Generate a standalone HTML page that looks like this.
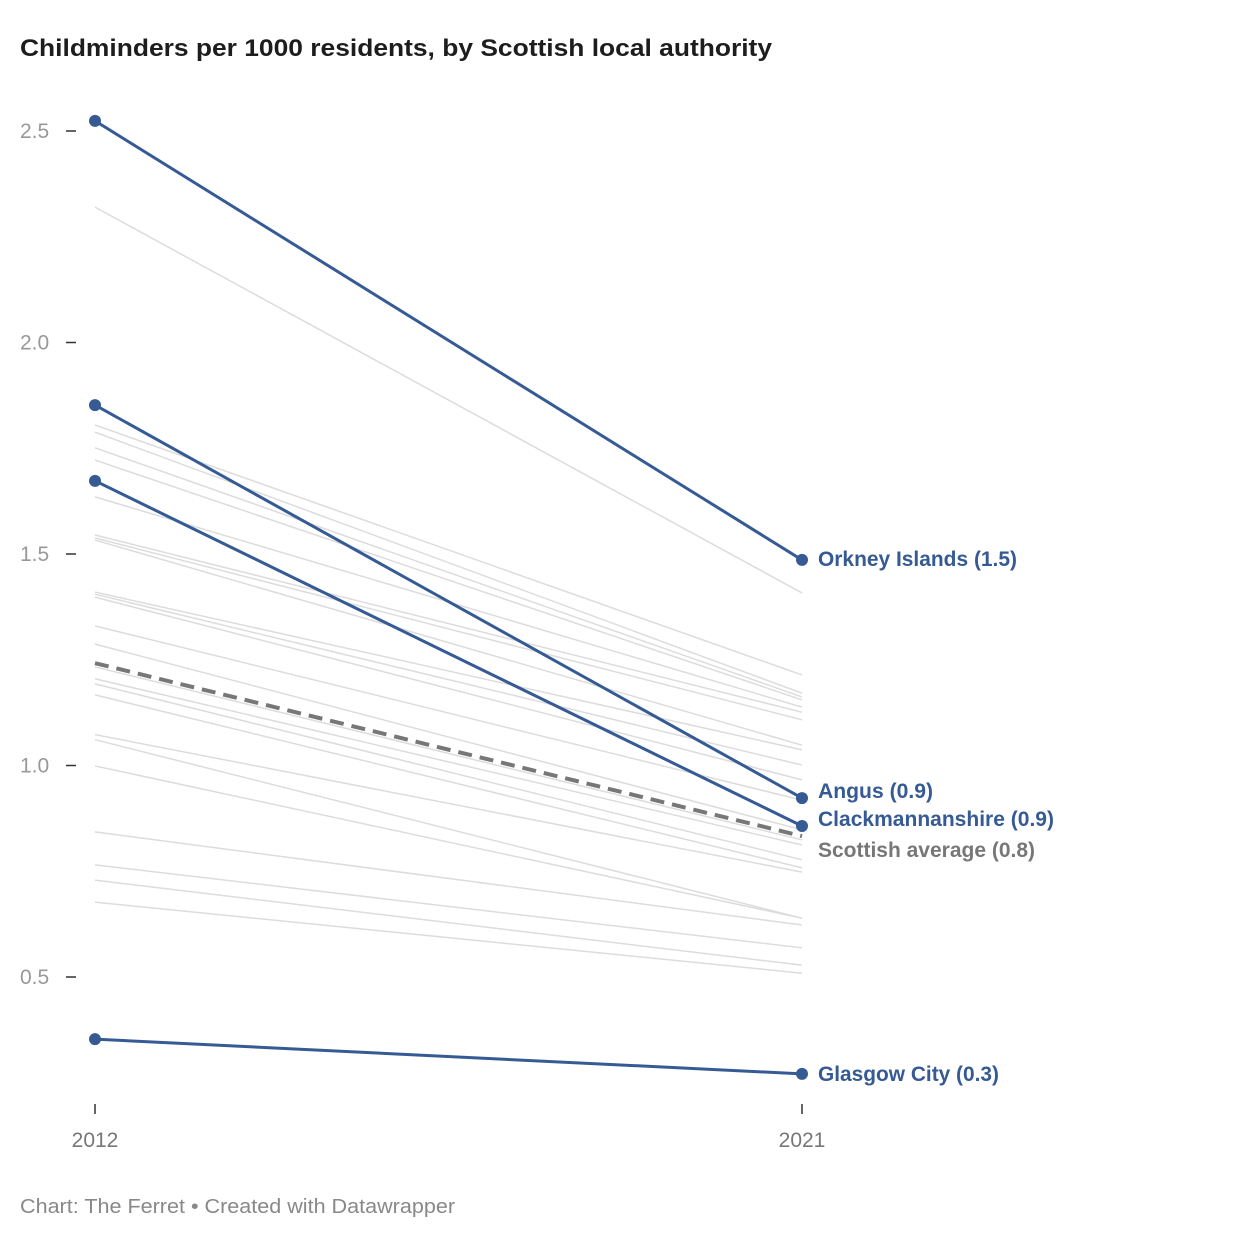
<!DOCTYPE html>
<html><head><meta charset="utf-8"><style>
body{margin:0;background:#fff;font-family:"Liberation Sans",sans-serif;}
svg{display:block}
</style></head><body>
<svg id="c" width="1240" height="1240">
<text x="20" y="56" font-size="24" font-weight="bold" fill="#1d1d1d" textLength="752" lengthAdjust="spacingAndGlyphs">Childminders per 1000 residents, by Scottish local authority</text>
<text x="20" y="1213" font-size="20" fill="#888" textLength="435" lengthAdjust="spacingAndGlyphs">Chart: The Ferret • Created with Datawrapper</text>
</svg>
<script>
const years=["2012","2021"];
const yTicks=[0.5,1.0,1.5,2.0,2.5];
const greyStart=[2.320,1.805,1.788,1.751,1.722,1.635,1.545,1.538,1.533,1.410,1.405,1.398,1.330,1.287,1.233,1.205,1.193,1.167,1.073,1.061,0.999,0.843,0.765,0.729,0.677];
const greyEnd=[1.408,1.214,1.171,1.162,1.155,1.138,1.126,1.108,1.048,1.037,1.001,0.966,0.918,0.848,0.824,0.812,0.777,0.758,0.748,0.639,0.639,0.623,0.569,0.528,0.509];
const hlNames=["Orkney Islands","Angus","Clackmannanshire","Glasgow City"];
const hlStart=[2.524,1.852,1.673,0.353];
const hlEnd=[1.486,0.923,0.857,0.271];
const hlLabels=["Orkney Islands (1.5)","Angus (0.9)","Clackmannanshire (0.9)","Glasgow City (0.3)"];
const hlLabelWidths=[199,115,236,181];
const avgStart=1.242, avgEnd=0.833;
const avgLabel="Scottish average (0.8)";

const svg=document.getElementById('c');const NS="http://www.w3.org/2000/svg";
const y=v=>131+(2.5-v)*423;
const x=i=>95+i*707;
function mk(t,a,parent){const e=document.createElementNS(NS,t);for(const k in a)e.setAttribute(k,a[k]);(parent||svg).appendChild(e);return e;}
yTicks.forEach(t=>{
  const l=mk('line',{x1:66,x2:76,y1:y(t),y2:y(t),stroke:'#333','stroke-width':1.5});
  
  
  const tx=mk('text',{x:20,y:y(t)+7,'font-size':21,fill:'#999'});tx.textContent=t.toFixed(1);
  
  
});
years.forEach((yr,i)=>{
  const l=mk('line',{x1:x(i),x2:x(i),y1:1104,y2:1114,stroke:'#333','stroke-width':1.5});
  
  
  const tx=mk('text',{x:x(i),y:1147,'font-size':21,fill:'#777','text-anchor':'middle'});tx.textContent=yr;
  
  
});
greyStart.forEach((s,i)=>{
  const l=mk('line',{x1:x(0),x2:x(1),y1:y(s),y2:y(greyEnd[i]),stroke:'#dcdcdc','stroke-width':1.5});
  
  
});
const a=mk('line',{x1:x(0),x2:x(1),y1:y(avgStart),y2:y(avgEnd),stroke:'#777','stroke-width':4,'stroke-dasharray':'14 8'});


const al=mk('text',{x:818,y:y(avgEnd)+21,'font-size':21,'font-weight':'bold',fill:'#777',textLength:217,lengthAdjust:'spacingAndGlyphs'});al.textContent=avgLabel;


const labelOffsets=[6,0,0,7];
hlStart.forEach((s,i)=>{
  const l=mk('line',{x1:x(0),x2:x(1),y1:y(s),y2:y(hlEnd[i]),stroke:'#355a94','stroke-width':3});
  
  
  [s,hlEnd[i]].forEach((v,j)=>{
    const c=mk('circle',{cx:x(j),cy:y(v),r:6,fill:'#355a94'});
    
    
  });
  const t=mk('text',{x:818,y:y(hlEnd[i])+labelOffsets[i],'font-size':21,'font-weight':'bold',fill:'#355a94',textLength:hlLabelWidths[i],lengthAdjust:'spacingAndGlyphs'});
  t.textContent=hlLabels[i];
  
  
});
</script>
</body></html>
